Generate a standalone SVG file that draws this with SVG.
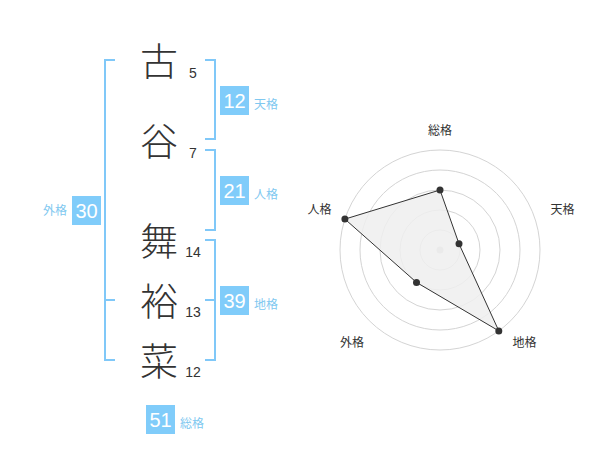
<svg xmlns="http://www.w3.org/2000/svg" width="600" height="470" viewBox="0 0 600 470">
<style>
.br{fill:none;stroke:#80c8f8;stroke-width:2}
.ch{font-family:"Noto Sans CJK JP","Noto Sans CJK SC",sans-serif;font-size:38px;font-weight:300;fill:#333;text-anchor:middle}
.num{font-family:"Liberation Sans",Arial,sans-serif;font-size:14px;fill:#333;text-anchor:middle}
.box{fill:#80ccfa}
.bn{font-family:"Liberation Sans",Arial,sans-serif;font-size:20px;fill:#fff;text-anchor:middle}
.lb{font-family:"Liberation Sans","Noto Sans CJK JP",sans-serif;font-size:12px;fill:#80c8f0}
.rg{fill:none;stroke:#d4d4d4;stroke-width:1}
.rl{font-family:"Liberation Sans","Noto Sans CJK JP",sans-serif;font-size:12px;fill:#333;text-anchor:middle}
.pt{fill:#333}
</style>
<rect width="600" height="470" fill="#fff"/>
<g id="connectors">
<path class="br" d="M115,60 H105 V360 H115 M105,300 H115"/>
<path class="br" d="M205,60 H215 V139 H205"/>
<path class="br" d="M205,150 H215 V230 H205"/>
<path class="br" d="M205,240 H215 V360 H205 M215,300 H205"/>
</g>
<g id="name">
<g id="char1"><text class="ch" x="159" y="75">古</text><text class="num" x="193" y="78">5</text></g>
<g id="char2"><text class="ch" x="159" y="155">谷</text><text class="num" x="193" y="158">7</text></g>
<g id="char3"><text class="ch" x="159" y="255">舞</text><text class="num" x="193" y="257">14</text></g>
<g id="char4"><text class="ch" x="159" y="315">裕</text><text class="num" x="193" y="317">13</text></g>
<g id="char5"><text class="ch" x="159" y="375">菜</text><text class="num" x="193" y="377">12</text></g>
</g>
<g id="gaikaku"><rect class="box" x="72" y="196" width="29" height="29"/><text class="bn" x="86.5" y="218">30</text><text class="lb" x="67" y="215" text-anchor="end">外格</text></g>
<g id="tenkaku"><rect class="box" x="220" y="86" width="29" height="29"/><text class="bn" x="234.5" y="108">12</text><text class="lb" x="254" y="109">天格</text></g>
<g id="jinkaku"><rect class="box" x="220" y="176" width="29" height="29"/><text class="bn" x="234.5" y="198">21</text><text class="lb" x="254" y="199">人格</text></g>
<g id="chikaku"><rect class="box" x="220" y="286" width="29" height="29"/><text class="bn" x="234.5" y="308">39</text><text class="lb" x="254" y="309">地格</text></g>
<g id="soukaku"><rect class="box" x="146" y="405" width="29" height="29"/><text class="bn" x="160.5" y="427">51</text><text class="lb" x="180" y="428">総格</text></g>
<g id="radar">
<circle class="rg" cx="440" cy="250" r="20"/>
<circle class="rg" cx="440" cy="250" r="40"/>
<circle class="rg" cx="440" cy="250" r="60"/>
<circle class="rg" cx="440" cy="250" r="80"/>
<circle class="rg" cx="440" cy="250" r="100"/>
<circle cx="440" cy="250" r="3.5" fill="#ccc"/>
<polygon points="440,190 459,243.8 498.8,330.9 416.5,282.4 344.9,219.1" fill="#efefef" fill-opacity="0.85" stroke="#333" stroke-width="1"/>
<circle class="pt" cx="440" cy="190" r="3.5"/>
<circle class="pt" cx="459" cy="243.8" r="3.5"/>
<circle class="pt" cx="498.8" cy="330.9" r="3.5"/>
<circle class="pt" cx="416.5" cy="282.4" r="3.5"/>
<circle class="pt" cx="344.9" cy="219.1" r="3.5"/>
<text class="rl" x="440" y="135">総格</text>
<text class="rl" x="562.5" y="214">天格</text>
<text class="rl" x="524.5" y="347">地格</text>
<text class="rl" x="352" y="347">外格</text>
<text class="rl" x="319.5" y="214">人格</text>
</g>
</svg>
